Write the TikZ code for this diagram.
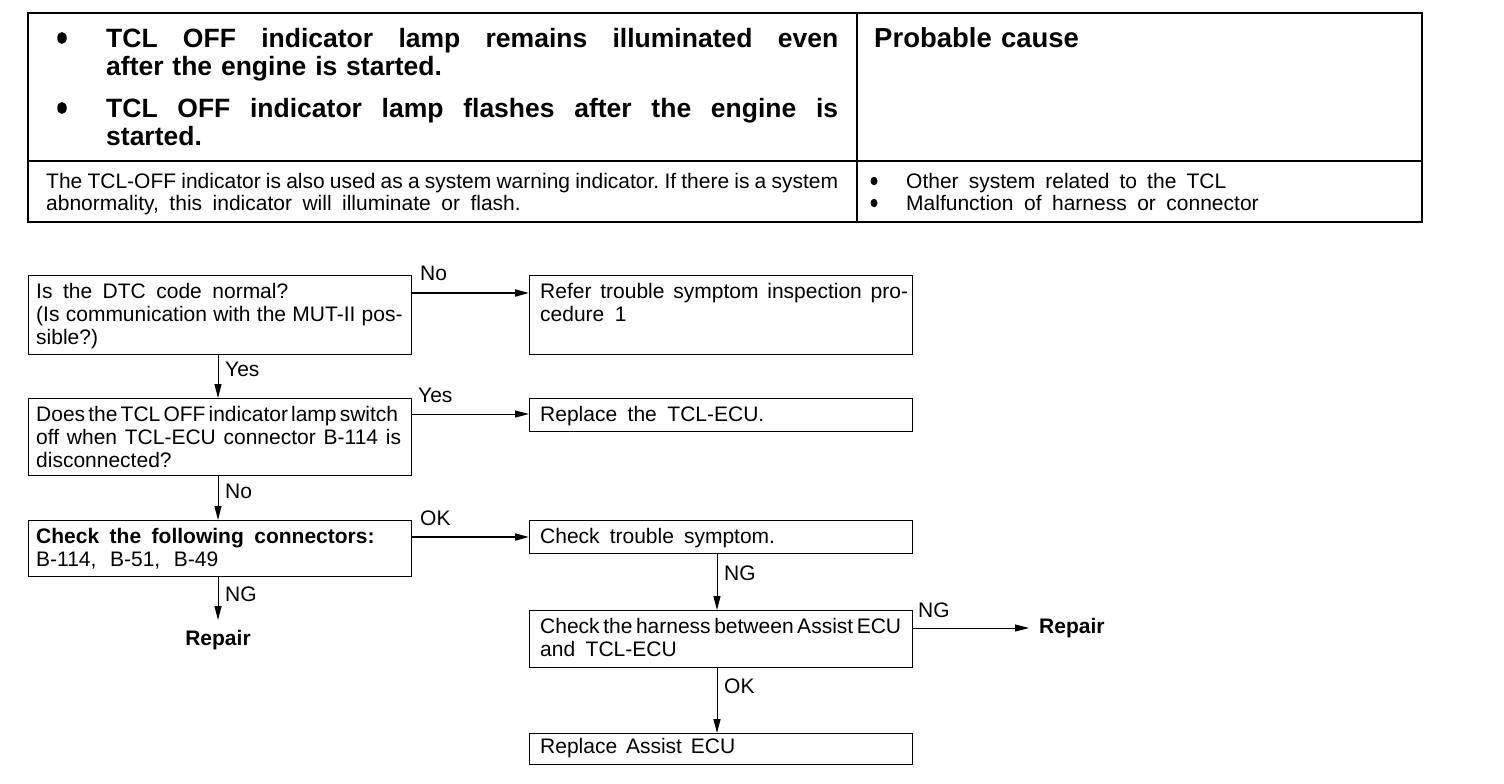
\documentclass[tikz,border=0pt]{standalone}
\usepackage{fontspec}
\setmainfont{Liberation Sans}
\usetikzlibrary{arrows.meta,shapes.geometric}
\newcommand\wsp[1]{\spaceskip=#1em plus .05em minus .02em\relax\xspaceskip=\spaceskip}
\newcommand\jst[1]{\spaceskip=#1em plus 1fil\relax\xspaceskip=\spaceskip}
\begin{document}
\begin{tikzpicture}[x=1pt,y=-1pt,
  box/.style={draw, line width=1.3pt, anchor=north west, inner sep=0pt, minimum width=383pt},
  txt/.style={anchor=base west, inner sep=0pt, align=left, text width=385pt, font=\fontsize{21}{23}\selectfont},
  lbl/.style={anchor=base west, inner sep=0pt, font=\fontsize{21}{23}\selectfont},
  htxt/.style={anchor=base west, inner sep=0pt, align=left, text width=740pt, font=\bfseries\fontsize{26.5}{28.5}\selectfont},
  hbul/.style={ellipse, fill, inner sep=0pt, minimum width=9.5pt, minimum height=12pt},
  ltxt/.style={anchor=base west, inner sep=0pt, align=left, text width=800pt, font=\fontsize{21}{22}\selectfont},
  lbul/.style={ellipse, fill, inner sep=0pt, minimum width=7pt, minimum height=8.5pt},
  arr/.style={-{Triangle[length=14pt,width=7pt]}, line width=1pt},
  arrthick/.style={arr, line width=2pt},
  rep/.style={inner sep=0pt, font=\bfseries\fontsize{21}{23}\selectfont}]
\fill[white] (0,0) rectangle (1504,784);
\useasboundingbox (0,0) rectangle (1504,784);

% table
\draw[line width=2pt] (28,13) rectangle (1422,222);
\draw[line width=1.5pt] (28,161) -- (1422,161);
\draw[line width=1.2pt] (857,13) -- (857,222);

\node[hbul] (hb1) at (62,38) {};
\node[htxt] (h1) at (106,47.5) {\hbox to 732pt{\jst{.28}TCL OFF indicator lamp remains illuminated even}\\after the engine is started.};
\node[hbul] (hb2) at (62,108) {};
\node[htxt] (h2) at (106,117) {\hbox to 732pt{\jst{.28}TCL OFF indicator lamp flashes after the engine is}\\started.};
\node[htxt, font=\bfseries\fontsize{27.5}{28.5}\selectfont] (pc) at (874,47.5) {Probable cause};

\node[ltxt] (desc) at (46,188) {\hbox to 792pt{\jst{.12}The TCL-OFF indicator is also used as a system warning indicator. If there is a system}\\{\wsp{.5}abnormality, this indicator will illuminate or flash.}};
\node[lbul] (cb1) at (874,181) {};
\node[ltxt] (c1) at (906,188) {\wsp{.48}Other system related to the TCL};
\node[lbul] (cb2) at (874,203) {};
\node[ltxt] (c2) at (906,210) {\wsp{.5}Malfunction of harness or connector};

% flowchart boxes
\node[box, minimum height=79pt] (b1) at (28,275) {};
\node[box, minimum height=79pt] (r1) at (529,275) {};
\node[box, minimum height=77pt] (b2) at (28,398) {};
\node[box, minimum height=33pt] (r2) at (529,398) {};
\node[box, minimum height=56pt] (b3) at (28,520) {};
\node[box, minimum height=33pt] (r3) at (529,520) {};
\node[box, minimum height=57pt] (r4) at (529,610) {};
\node[box, minimum height=31pt] (r5) at (529,733) {};

% box texts
\node[txt] (b1t) at (36,298) {{\wsp{.5}Is the DTC code normal?}\\{\wsp{.3}(Is communication with the MUT-II pos-}\\sible?)};
\node[txt] (r1t) at (540,298) {{\wsp{.42}Refer trouble symptom inspection pro-}\\{\wsp{.5}cedure 1}};
\node[txt] (b2t) at (36,421) {{\wsp{.15}Does the TCL OFF indicator lamp switch}\\{\wsp{.37}off when TCL-ECU connector B-114 is}\\disconnected?};
\node[txt] (r2t) at (540,421) {\wsp{.5}Replace the TCL-ECU.};
\node[txt] (b3t) at (36,543) {{\bfseries\wsp{.5}Check the following connectors:}\\{\wsp{.65}B-114, B-51, B-49}};
\node[txt] (r3t) at (540,543) {\wsp{.48}Check trouble symptom.};
\node[txt] (r4t) at (540,633) {{\wsp{.17}Check the harness between Assist ECU}\\{\wsp{.5}and TCL-ECU}};
\node[txt] (r5t) at (540,753) {\wsp{.42}Replace Assist ECU};

% end nodes
\node[rep, anchor=north, inner ysep=10pt] (rep1) at (218,620) {Repair};
\node[rep, anchor=west, inner xsep=10pt] (rep2) at (1029,628) {Repair};

% connectors
\draw[arrthick] ([yshift=-18pt]b1.north east) -- ([yshift=-18pt]r1.north west);
\node[lbl] (lno1) at (420,280) {No};
\draw[arr] ([xshift=190pt]b1.south west) -- ([xshift=190pt]b2.north west);
\node[lbl] (lyes1) at (225,376) {Yes};
\draw[arr] ([yshift=-16pt]b2.north east) -- ([yshift=-16pt]r2.north west);
\node[lbl] (lyes2) at (418,402) {Yes};
\draw[arr] ([xshift=190pt]b2.south west) -- ([xshift=190pt]b3.north west);
\node[lbl] (lno2) at (225,498) {No};
\draw[arrthick] ([yshift=-17pt]b3.north east) -- ([yshift=-17pt]r3.north west);
\node[lbl] (lok1) at (420,525) {OK};
\draw[arr] ([xshift=190pt]b3.south west) -- (rep1.north);
\node[lbl] (lng1) at (225,601) {NG};
\draw[arr] ([xshift=188pt]r3.south west) -- ([xshift=188pt]r4.north west);
\node[lbl] (lng2) at (724,580) {NG};
\draw[arr] ([yshift=-18pt]r4.north east) -- (rep2.west);
\node[lbl] (lng3) at (918,617) {NG};
\draw[arr] ([xshift=188pt]r4.south west) -- ([xshift=188pt]r5.north west);
\node[lbl] (lok2) at (724,693) {OK};
\end{tikzpicture}
\end{document}
